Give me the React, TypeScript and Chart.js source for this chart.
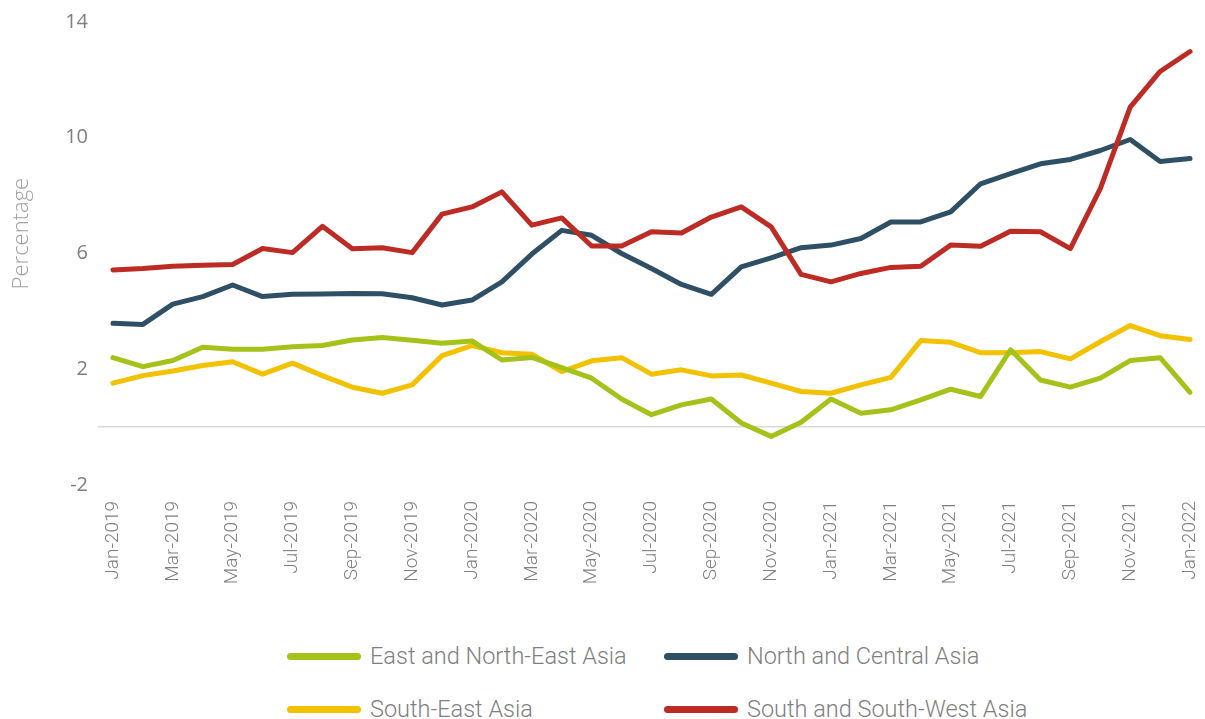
import React, { useEffect, useRef } from 'react';
import { Chart, registerables } from 'chart.js';

Chart.register(...registerables);

const months = [
  'Jan-2019', 'Feb-2019', 'Mar-2019', 'Apr-2019', 'May-2019', 'Jun-2019', 'Jul-2019', 'Aug-2019', 'Sep-2019', 'Oct-2019', 'Nov-2019', 'Dec-2019',
  'Jan-2020', 'Feb-2020', 'Mar-2020', 'Apr-2020', 'May-2020', 'Jun-2020', 'Jul-2020', 'Aug-2020', 'Sep-2020', 'Oct-2020', 'Nov-2020', 'Dec-2020',
  'Jan-2021', 'Feb-2021', 'Mar-2021', 'Apr-2021', 'May-2021', 'Jun-2021', 'Jul-2021', 'Aug-2021', 'Sep-2021', 'Oct-2021', 'Nov-2021', 'Dec-2021',
  'Jan-2022',
];

const eastNorthEastAsia = [
  2.4, 2.09, 2.3, 2.76, 2.69, 2.69, 2.78, 2.82, 3.01, 3.1, 3.0, 2.9,
  2.98, 2.32, 2.41, 2.06, 1.69, 0.97, 0.43, 0.77, 0.97, 0.14, -0.32, 0.17,
  0.97, 0.48, 0.6, 0.94, 1.31, 1.06, 2.67, 1.63, 1.38, 1.69, 2.3, 2.4,
  1.2,
];

const northCentralAsia = [
  3.59, 3.55, 4.25, 4.51, 4.91, 4.51, 4.59, 4.6, 4.62, 4.61, 4.47, 4.22,
  4.39, 5.02, 5.98, 6.8, 6.63, 6.0, 5.48, 4.93, 4.59, 5.54, 5.85, 6.2,
  6.29, 6.52, 7.09, 7.09, 7.44, 8.41, 8.76, 9.1, 9.25, 9.56, 9.94, 9.18,
  9.28,
];

const southEastAsia = [
  1.52, 1.78, 1.94, 2.13, 2.26, 1.83, 2.21, 1.78, 1.38, 1.17, 1.46, 2.47,
  2.82, 2.57, 2.52, 1.92, 2.29, 2.4, 1.83, 1.98, 1.77, 1.8, 1.52, 1.23,
  1.17, 1.46, 1.72, 2.99, 2.93, 2.57, 2.57, 2.61, 2.36, 2.95, 3.51, 3.16,
  3.03,
];

const southSouthWestAsia = [
  5.43, 5.48, 5.56, 5.59, 5.62, 6.17, 6.03, 6.94, 6.16, 6.2, 6.03, 7.36,
  7.61, 8.13, 6.98, 7.23, 6.26, 6.26, 6.75, 6.71, 7.26, 7.61, 6.92, 5.28,
  5.02, 5.31, 5.52, 5.56, 6.29, 6.25, 6.77, 6.75, 6.17, 8.24, 11.06, 12.29,
  12.98,
];

const yTickValues = [-2, 0, 2, 6, 10, 14];
const yAxisTitle = 'Percentage';

const seriesNames = ['East and North-East Asia', 'North and Central Asia', 'South-East Asia', 'South and South-West Asia'];
const seriesColors = ['#a5c21a', '#2f5064', '#f2c100', '#bd2b25'];
const seriesData = [eastNorthEastAsia, northCentralAsia, southEastAsia, southSouthWestAsia];
const seriesOrder = [1, 3, 2, 0];

const yTitlePlugin = {
  id: 'yTitlePlugin',
  afterDraw(chart: any) {
    const ctx = chart.ctx;
    const area = chart.chartArea;
    ctx.save();
    ctx.translate(22, area.top + (area.bottom - area.top) * 0.457);
    ctx.rotate(-Math.PI / 2);
    ctx.font = '300 22px "Open Sans"';
    ctx.fillStyle = '#a0a0a0';
    ctx.textAlign = 'center';
    ctx.textBaseline = 'middle';
    ctx.fillText(yAxisTitle, 0, 0);
    ctx.restore();
  },
};

export default function App() {
  const canvasRef = useRef<HTMLCanvasElement | null>(null);

  useEffect(() => {
    if (!canvasRef.current) return;
    const chart = new Chart(canvasRef.current, {
      type: 'line',
      data: {
        labels: months,
        datasets: seriesNames.map((name, i) => ({
          label: name,
          data: seriesData[i],
          borderColor: seriesColors[i],
          backgroundColor: seriesColors[i],
          borderWidth: 5,
          pointRadius: 0,
          pointHoverRadius: 0,
          tension: 0,
          fill: false,
          borderJoinStyle: 'round' as const,
          borderCapStyle: 'round' as const,
          order: seriesOrder[i],
        })),
      },
      plugins: [yTitlePlugin],
      options: {
        responsive: false,
        animation: false,
        devicePixelRatio: 1,
        layout: { padding: { top: 22, left: 0, right: 0, bottom: 0 } },
        plugins: {
          legend: { display: false },
          tooltip: { enabled: false },
        },
        scales: {
          x: {
            type: 'category',
            offset: true,
            grid: { display: false },
            border: { display: false },
            ticks: {
              autoSkip: false,
              maxRotation: 90,
              minRotation: 90,
              padding: 8,
              color: '#808080',
              font: { family: 'Roboto', size: 19, weight: '300' },
              callback: (_v: any, i: number) => (i % 2 === 0 ? months[i] : ''),
            },
            afterFit: (scale: any) => {
              scale.height = 115;
              scale.paddingRight = 0;
              scale.paddingLeft = 0;
            },
          },
          y: {
            min: -2,
            max: 14,
            border: { display: false },
            grid: {
              drawTicks: false,
              lineWidth: 1.5,
              color: (ctx: any) => (ctx.tick && ctx.tick.value === 0 ? '#d9d9d9' : 'rgba(0,0,0,0)'),
            },
            afterBuildTicks: (scale: any) => {
              scale.ticks = yTickValues.map((v) => ({ value: v }));
            },
            ticks: {
              padding: 10,
              color: '#7f7f7f',
              font: { family: '"Open Sans"', size: 20 },
              callback: (v: any) => (v === 0 ? '' : String(v)),
            },
            afterFit: (scale: any) => {
              scale.width = 98;
            },
          },
        },
      },
    });
    return () => chart.destroy();
  }, []);

  const legendPos = [
    { left: 287, top: 656 },
    { left: 664, top: 656 },
    { left: 287, top: 709 },
    { left: 664, top: 709 },
  ];

  return (
    <div style={{ position: 'absolute', left: 0, top: 0, width: 1205, height: 719, background: '#ffffff', overflow: 'hidden' }}>
      <canvas ref={canvasRef} width={1205} height={600} style={{ position: 'absolute', left: 0, top: 0, width: 1205, height: 600 }} />
      {seriesNames.map((name, i) => (
        <div
          key={name}
          style={{
            position: 'absolute',
            left: legendPos[i].left,
            top: legendPos[i].top - 16,
            height: 32,
            display: 'flex',
            alignItems: 'center',
            whiteSpace: 'nowrap',
          }}
        >
          <span style={{ display: 'inline-block', width: 74, height: 7, borderRadius: 4, background: seriesColors[i], marginRight: 9 }} />
          <span style={{ fontFamily: 'Roboto', fontWeight: 300, fontSize: 23.5, color: '#7f7f7f', lineHeight: '32px' }}>{name}</span>
        </div>
      ))}
    </div>
  );
}
